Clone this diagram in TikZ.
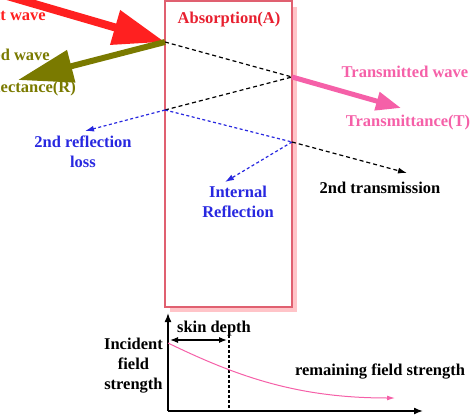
\documentclass[tikz,border=0pt]{standalone}
\usepackage{fontspec}
\setmainfont{Liberation Serif}
\usetikzlibrary{arrows.meta}
\definecolor{incred}{HTML}{FF2020}
\definecolor{refolive}{HTML}{7A7A00}
\definecolor{trpink}{HTML}{F560A8}
\definecolor{boxred}{HTML}{E06070}
\definecolor{shadowpink}{HTML}{FFC4C8}
\definecolor{absred}{HTML}{E82030}
\definecolor{lossblue}{HTML}{2828E0}
\begin{document}
\begin{tikzpicture}[x=1pt,y=-1pt,
  lbl/.style={font=\fontsize{16.5}{20}\selectfont\bfseries, inner sep=0pt, align=center},
  blk/.style={black, line width=1.2pt, dash pattern=on 4pt off 3pt},
  blu/.style={lossblue, line width=1.2pt, dash pattern=on 3pt off 2.5pt}]
\useasboundingbox (0,0) rectangle (474,415);
\clip (0,0) rectangle (474,415);
% box
\fill[shadowpink] (170,7) rectangle (297,312);
\draw[boxred, fill=white, line width=1.4pt] (165,1) rectangle (292,307);
% points
\coordinate (P1) at (165,42);
\coordinate (P2) at (292,77);
\coordinate (P3) at (165,110);
\coordinate (P4) at (292,142);
\coordinate (S1) at (-10,-9);
\coordinate (RT) at (18,80);
\coordinate (TT) at (401,108);
\coordinate (B1) at (85,131);
\coordinate (B2) at (225,182);
\coordinate (K) at (407,173);
% dashed paths
\draw[blk] (P1) -- (P2) -- (P3);
\draw[blu, -{Latex[length=9pt,width=6pt]}] (P3) -- (B1);
\draw[blu] (P3) -- (P4);
\draw[blu, -{Latex[length=9pt,width=6pt]}] (P4) -- (B2);
\draw[blk, -{Latex[length=9pt,width=6pt]}] (P4) -- (K);
% thick arrows
\draw[incred, line width=8pt, -{Triangle[length=52pt,width=34pt]}] (S1) -- (P1);
\draw[refolive, line width=6pt, -{Triangle[length=55pt,width=32pt]}] (P1) -- (RT);
\draw[trpink, line width=5pt, -{Triangle[length=25pt,width=18pt]}] (P2) -- (TT);
% labels
\node[lbl, absred] (abs) at (229,20) {Absorption(A)};
\node[lbl, incred, anchor=east] (inc) at (46,15) {Incident wave};
\node[lbl, refolive, anchor=east] (refw) at (50,55) {Reflected wave};
\node[lbl, refolive, anchor=east] (refl) at (76,88) {Reflectance(R)};
\node[lbl, trpink] (trw) at (405,72) {Transmitted wave};
\node[lbl, trpink] (trt) at (408,123) {Transmittance(T)};
\node[lbl, lossblue] (loss) at (83,152) {2nd reflection\\loss};
\node[lbl, lossblue] (intr) at (238,202) {Internal\\Reflection};
\node[lbl] (sec) at (380,188) {2nd transmission};
% graph
\coordinate (O) at (168,411);
\coordinate (YT) at (168,313);
\coordinate (XT) at (423,411);
\draw[line width=1.5pt, -{Latex[length=9pt,width=7pt]}] (O) -- (YT);
\draw[line width=1.5pt, -{Latex[length=9pt,width=7pt]}] (O) -- (XT);
\coordinate (D0) at (229,330);
\coordinate (D1) at (229,411);
\draw[line width=1.2pt, dash pattern=on 3pt off 2pt] (D0) -- (D1);
\coordinate (SA) at (170,340);
\coordinate (SB) at (227,340);
\draw[line width=1.2pt, {Latex[length=8pt,width=6pt]}-{Latex[length=8pt,width=6pt]}] (SA) -- (SB);
\coordinate (C0) at (168,343);
\coordinate (CE) at (395,398);
\draw[trpink, line width=1pt, -{Latex[length=8pt,width=5pt]}] (C0) .. controls (240,378) and (300,398) .. (CE);
\node[lbl] (skin) at (214,329) {skin depth};
\node[lbl, anchor=east] (incf) at (163,366) {Incident\\field\\strength};
\node[lbl] (rem) at (380,372) {remaining field strength};
\end{tikzpicture}
\end{document}
